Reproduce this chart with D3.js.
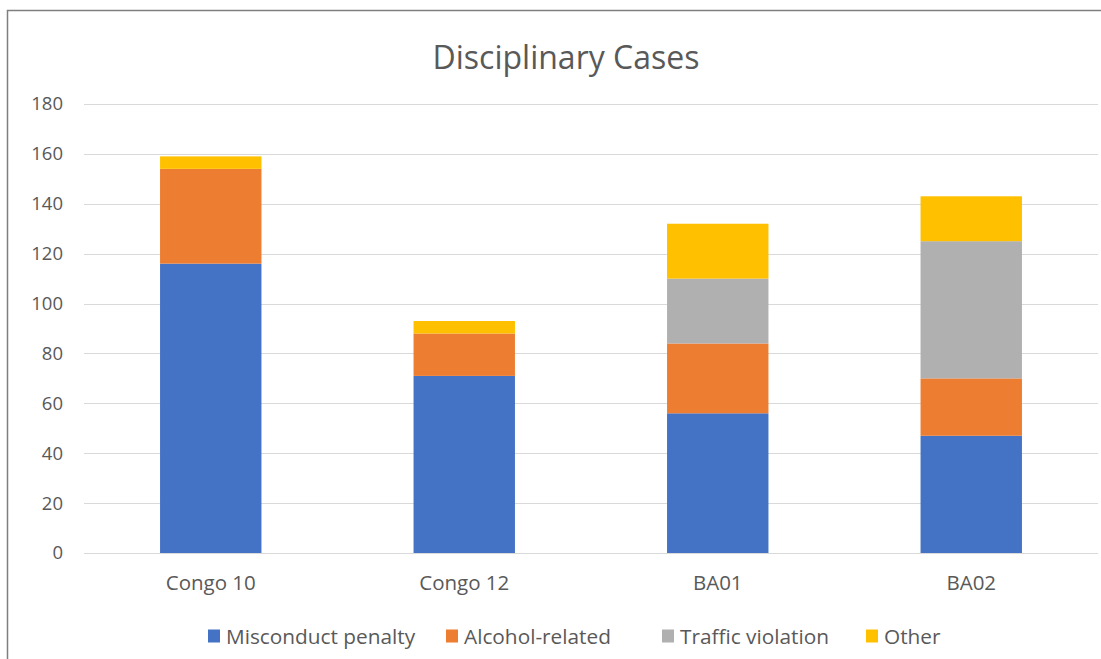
<!DOCTYPE html>
<html>
<head>
<meta charset="utf-8">
<script src="https://cdn.jsdelivr.net/npm/d3@7"></script>
<style>
  html, body { margin: 0; padding: 0; background: #fff; }
  svg { display: block; }
  text { font-family: "Open Sans", "Noto Sans", sans-serif; fill: #595959; }
</style>
</head>
<body>
<svg id="chart" width="1101" height="659"></svg>
<script>
// Disciplinary cases per unit, stacked by case type
const categories = ["Congo 10", "Congo 12", "BA01", "BA02"];
const seriesNames = ["Misconduct penalty", "Alcohol-related", "Traffic violation", "Other"];
const misconduct = [116, 71, 56, 47];
const alcohol    = [38, 17, 28, 23];
const traffic    = [0, 0, 26, 55];
const other      = [5, 5, 22, 18];
const yTicks = [0, 20, 40, 60, 80, 100, 120, 140, 160, 180];
const colors = ["#4472C4", "#ED7D31", "#B0B0B0", "#FFC000"];

const seriesValues = [misconduct, alcohol, traffic, other];
const rows = categories.map((c, i) => {
  const r = { category: c };
  seriesNames.forEach((s, k) => { r[s] = seriesValues[k][i]; });
  return r;
});

const svg = d3.select("#chart");
const W = 1101, H = 659;
const margin = { left: 84, right: 3, top: 104, bottom: 106 };

// chart frame
svg.append("path")
  .attr("d", `M7.5,${H} V10.5 H${W}`)
  .attr("fill", "none").attr("stroke", "#7f7f7f").attr("stroke-width", 1.5);

const x = d3.scaleBand()
  .domain(categories)
  .range([margin.left, W - margin.right])
  .paddingInner(0.6).paddingOuter(0.3);

const y = d3.scaleLinear()
  .domain([0, 180])
  .range([H - margin.bottom, margin.top]);

// gridlines
svg.append("g").selectAll("line").data(yTicks).join("line")
  .attr("x1", margin.left).attr("x2", W - margin.right)
  .attr("y1", d => Math.round(y(d)) + 0.5).attr("y2", d => Math.round(y(d)) + 0.5)
  .attr("stroke", "#d9d9d9").attr("stroke-width", 1);

// y axis labels
const yAxis = svg.append("g")
  .attr("transform", `translate(${margin.left - 21},0)`)
  .call(d3.axisLeft(y).tickValues(yTicks).tickSize(0).tickPadding(0));
yAxis.select(".domain").remove();
yAxis.selectAll("text")
  .style("font-family", '"Open Sans", "Noto Sans", sans-serif')
  .style("font-size", "18.5px").attr("fill", "#595959");

// stacked bars
const stack = d3.stack().keys(seriesNames);
const stacked = stack(rows);
svg.append("g").selectAll("g").data(stacked).join("g")
  .attr("fill", (d, i) => colors[i])
  .selectAll("rect").data(d => d.filter(p => p[1] > p[0])).join("rect")
  .attr("x", d => x(d.data.category))
  .attr("width", x.bandwidth())
  .attr("y", d => y(d[1]))
  .attr("height", d => y(d[0]) - y(d[1]));

// x axis labels
const xAxis = svg.append("g")
  .attr("transform", `translate(0,${H - margin.bottom})`)
  .call(d3.axisBottom(x).tickSize(0).tickPadding(22));
xAxis.select(".domain").remove();
xAxis.selectAll("text")
  .style("font-family", '"Open Sans", "Noto Sans", sans-serif')
  .style("font-size", "20.5px").attr("fill", "#595959");

// title
svg.append("text")
  .attr("x", 566).attr("y", 69)
  .attr("text-anchor", "middle")
  .style("font-size", "32px")
  .text("Disciplinary Cases");

// legend
const legendX = [208, 446, 662, 866];
const legend = svg.append("g").selectAll("g").data(seriesNames).join("g")
  .attr("transform", (d, i) => `translate(${legendX[i]},636)`);
legend.append("rect")
  .attr("x", 0).attr("y", -6.5).attr("width", 12).attr("height", 13)
  .attr("fill", (d, i) => colors[i]);
legend.append("text")
  .attr("x", 18).attr("y", 7.5)
  .style("font-size", "20.8px")
  .text(d => d);
</script>
</body>
</html>
